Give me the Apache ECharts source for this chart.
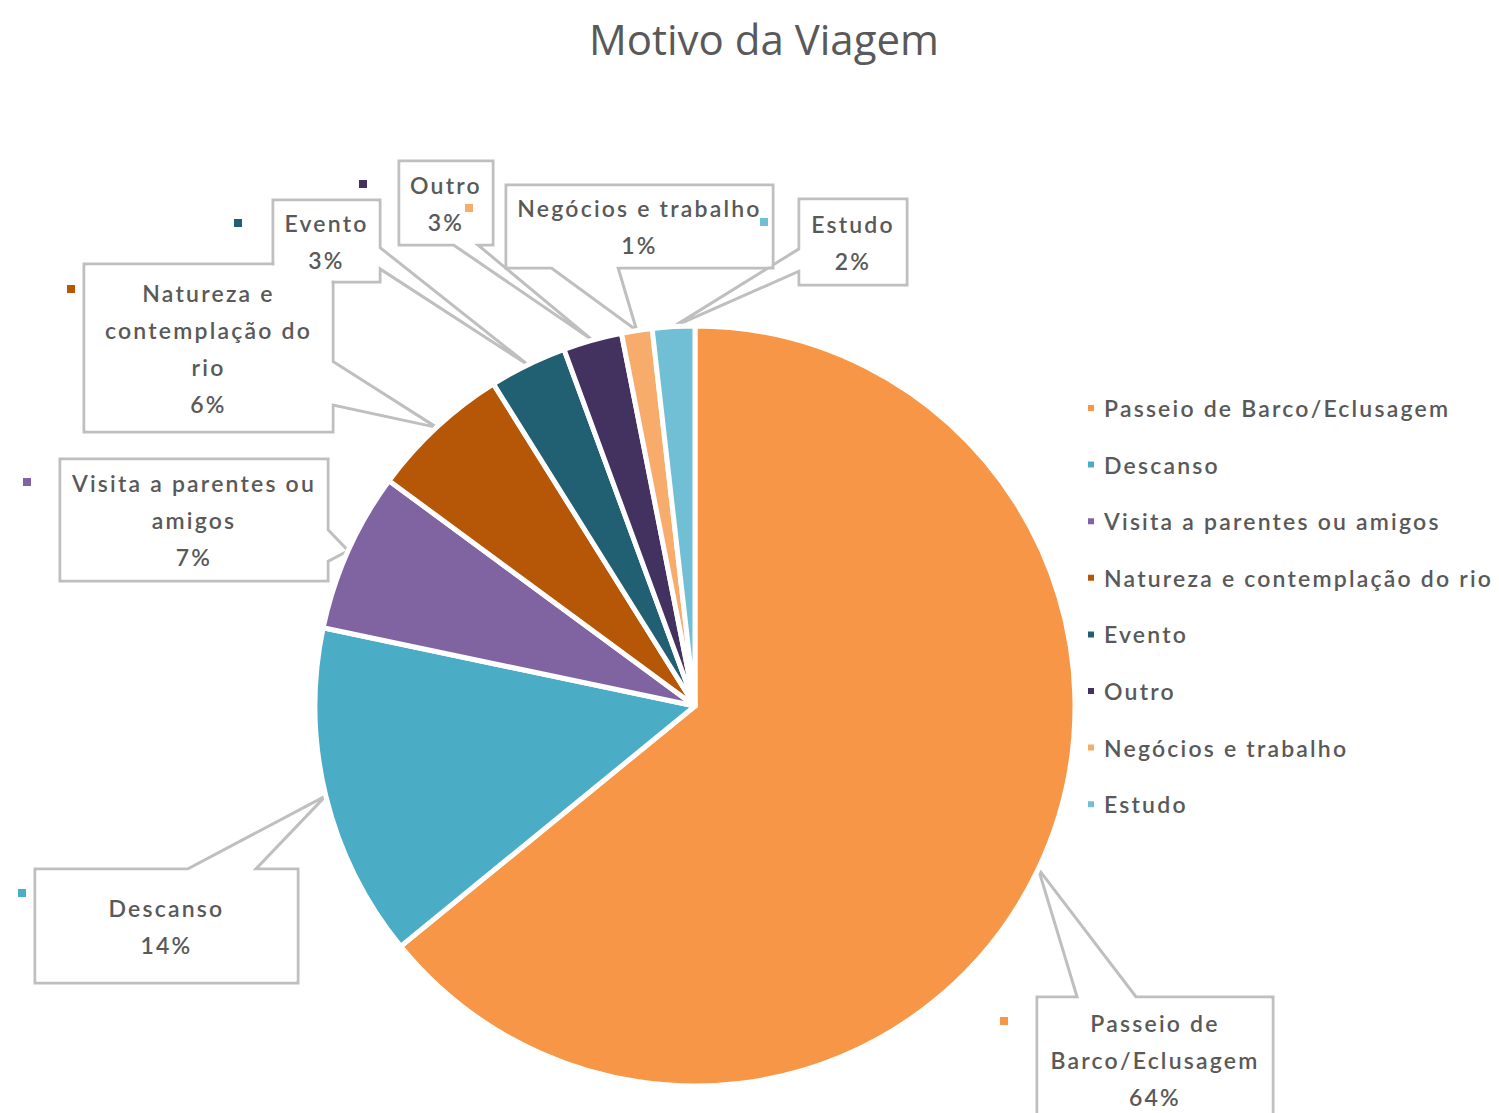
<!DOCTYPE html>
<html>
<head>
<meta charset="utf-8">
<script src="https://cdn.jsdelivr.net/npm/echarts@6/dist/echarts.min.js"></script>
<style>
html, body { margin: 0; padding: 0; background: #ffffff; }
#chart { width: 1499px; height: 1113px; }
#chart text[style*="Lato"] { letter-spacing: 2.2px; }
</style>
</head>
<body>
<div id="chart"></div>
<script>
// ---- data ----
const categories = ['Passeio de Barco/Eclusagem', 'Descanso', 'Visita a parentes ou amigos',
  'Natureza e contemplação do rio', 'Evento', 'Outro', 'Negócios e trabalho', 'Estudo'];
const values = [64.1, 14.2, 6.8, 6.0, 3.3, 2.5, 1.3, 1.8];
const labelNames = ['Passeio de\nBarco/Eclusagem', 'Descanso', 'Visita a parentes ou\namigos',
  'Natureza e\ncontemplação do\nrio', 'Evento', 'Outro', 'Negócios e trabalho', 'Estudo'];
const titleText = 'Motivo da Viagem';

// ---- styles / layout ----
const colors = ['#F79646', '#4BACC6', '#8064A2', '#B65708', '#215F73', '#433260', '#F7AC6B', '#70BFD5'];
// callout boxes: [left, top, width, height]
const boxRects = [
  [1037, 997, 236, 126], [35, 869, 263, 114], [60, 459, 268, 122], [84, 264, 249, 168],
  [273, 200, 107, 82], [399, 161, 94, 84], [506, 185, 267, 83], [799, 199, 108, 86]
];
const boxSides = ['top', 'top', 'right', 'right', 'right', 'bottom', 'bottom', 'left'];
const markerPos = [[1004, 1021], [22, 893], [27, 482], [71, 289], [238, 223], [363, 184], [469, 208], [764, 222]];
const LINE_H = 37;
const BORDER = 3;
const FONT = 'Lato';

function calloutPoints(rect, tip, side) {
  const [l, t, w, h] = rect, r = l + w, b = t + h;
  const horiz = side === 'top' || side === 'bottom';
  const mid = horiz ? l + w / 2 : t + h / 2;
  const proj = horiz ? tip[0] : tip[1];
  const f = proj < mid ? [0.17, 0.42] : [0.58, 0.84];
  const TL = [l, t], TR = [r, t], BR = [r, b], BL = [l, b];
  const px = k => l + f[k] * w, py = k => t + f[k] * h;
  switch (side) {
    case 'top': return [TL, [px(0), t], tip, [px(1), t], TR, BR, BL, TL];
    case 'right': return [TL, TR, [r, py(0)], tip, [r, py(1)], BR, BL, TL];
    case 'bottom': return [TL, TR, BR, [px(1), b], tip, [px(0), b], BL, TL];
    default: return [TL, TR, BR, BL, [l, py(1)], tip, [l, py(0)], TL];
  }
}

function boxLabel(i) {
  const rect = boxRects[i];
  const n = labelNames[i].split('\n').length + 1;
  const inner = rect[3] - BORDER;
  const content = n * LINE_H;
  const pad = (inner - content) / 2;
  return {
    width: rect[2] - BORDER,
    height: content,
    padding: [pad, 0, pad, 0],
    backgroundColor: '#ffffff'
  };
}

const chart = echarts.init(document.getElementById('chart'), null, { renderer: 'svg' });

const pieCenter = [695, 706];
const pieRadius = 380;

const option = {
  backgroundColor: '#ffffff',
  animation: false,
  color: colors,
  title: {
    text: titleText,
    left: 584,
    top: 12,
    textStyle: { fontFamily: 'Open Sans', fontSize: 42, fontWeight: 'normal', color: '#595959' }
  },
  legend: {
    orient: 'vertical',
    left: 1086,
    top: 394,
    padding: 0,
    itemGap: 28.6,
    itemWidth: 8,
    itemHeight: 8,
    icon: 'rect',
    selectedMode: false,
    data: categories,
    textStyle: { fontFamily: FONT, fontSize: 23, fontWeight: 600, color: '#595959', lineHeight: 28, padding: [0, 0, 0, 4] }
  },
  series: [
    {
      type: 'pie',
      center: pieCenter,
      radius: pieRadius,
      startAngle: 90,
      clockwise: true,
      avoidLabelOverlap: false,
      percentPrecision: 0,
      emphasis: { disabled: true },
      itemStyle: { borderColor: '#ffffff', borderWidth: 5 },
      label: {
        show: true,
        position: 'outside',
        overflow: 'none',
        fontFamily: FONT,
        fontSize: 23,
        fontWeight: 600,
        color: '#595959',
        lineHeight: LINE_H,
        formatter: p => labelNames[p.dataIndex] + '\n' + p.percent + '%'
      },
      labelLine: {
        show: true,
        smooth: false,
        lineStyle: { color: '#BFBFBF', width: BORDER, cap: 'square', join: 'miter' }
      },
      labelLayout: function (params) {
        const i = params.dataIndex;
        const rect = boxRects[i];
        const out = {
          x: rect[0] + rect[2] / 2,
          y: rect[1] + BORDER / 2,
          align: 'center',
          verticalAlign: 'top'
        };
        if (params.labelLinePoints && params.labelLinePoints.length) {
          out.labelLinePoints = calloutPoints(rect, params.labelLinePoints[0], boxSides[i]);
        }
        return out;
      },
      data: categories.map((name, i) => ({
        name: name, value: values[i],
        itemStyle: { color: colors[i] },
        label: boxLabel(i)
      }))
    },
    {
      type: 'pie',
      z: 3,
      center: pieCenter,
      radius: pieRadius,
      startAngle: 90,
      clockwise: true,
      silent: true,
      avoidLabelOverlap: false,
      emphasis: { disabled: true },
      itemStyle: { color: 'rgba(0,0,0,0)', borderWidth: 0 },
      label: {
        show: true,
        position: 'outside',
        formatter: ' ',
        fontSize: 1,
        width: 8,
        height: 8,
        padding: 0
      },
      labelLine: { show: false },
      labelLayout: function (params) {
        const p = markerPos[params.dataIndex];
        return { x: p[0], y: p[1], align: 'center', verticalAlign: 'middle' };
      },
      data: categories.map((name, i) => ({
        name: name, value: values[i],
        label: { backgroundColor: colors[i] }
      }))
    }
  ]
};

chart.setOption(option);
</script>
</body>
</html>
